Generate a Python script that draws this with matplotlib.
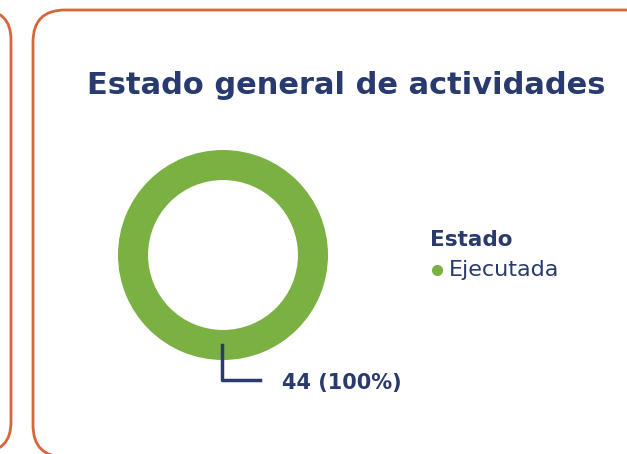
import numpy as np
import matplotlib.pyplot as plt
from matplotlib.patches import FancyBboxPatch
from matplotlib.lines import Line2D

estados = ["Ejecutada"]
valores = [44]
titulo = "Estado general de actividades"
leyenda_titulo = "Estado"

navy = "#283a6e"
green = "#7bb043"
orange = "#d9653b"

plt.rcParams["font.family"] = ["DejaVu Sans"]

W, H = 627, 454
fig = plt.figure(figsize=(W / 100, H / 100), dpi=100)

# background layer in pixel units (y measured from the top)
bg = fig.add_axes([0, 0, 1, 1])
bg.set_xlim(0, W)
bg.set_ylim(0, H)
bg.axis("off")

def Y(y):
    return H - y

bg.add_patch(FancyBboxPatch((-100, Y(452)), 111, 442,
                            boxstyle="round,pad=0,rounding_size=30",
                            fill=False, ec=orange, lw=2, clip_on=False))
bg.add_patch(FancyBboxPatch((33, Y(457)), 640, 447,
                            boxstyle="round,pad=0,rounding_size=32",
                            fill=False, ec=orange, lw=2, clip_on=False))

bg.text(346, Y(85), titulo, ha="center", va="center",
        fontsize=22, fontweight="bold", color=navy)

# legend
bg.text(430, Y(240), leyenda_titulo, ha="left", va="center",
        fontsize=15.5, fontweight="bold", color=navy)
for i, e in enumerate(estados):
    yy = 270 + i * 26
    bg.plot([437], [Y(yy)], "o", ms=8, color=green, mec="none")
    bg.text(449, Y(yy), e, ha="left", va="center", fontsize=16, color=navy)

# donut
cx, cy, r = 223, 255, 105
ax = fig.add_axes([(cx - r) / W, 1 - (cy + r) / H, 2 * r / W, 2 * r / H])
ax.pie(valores, colors=[green], startangle=90, counterclock=False,
       wedgeprops=dict(width=0.286, edgecolor="none"), radius=1)
ax.set_xlim(-1, 1)
ax.set_ylim(-1, 1)
ax.set_aspect("equal")
ax.axis("off")

total = sum(valores)
etiqueta = f"{valores[0]} ({valores[0] / total:.0%})"
ax.add_line(Line2D([-0.01, -0.01, 0.35], [-0.857, -1.19, -1.19],
                   color=navy, lw=2.5, clip_on=False))
ax.text(0.56, -1.22, etiqueta, ha="left", va="center", fontsize=15,
        fontweight="bold", color=navy, clip_on=False)

fig.savefig("out.png", dpi=100)
